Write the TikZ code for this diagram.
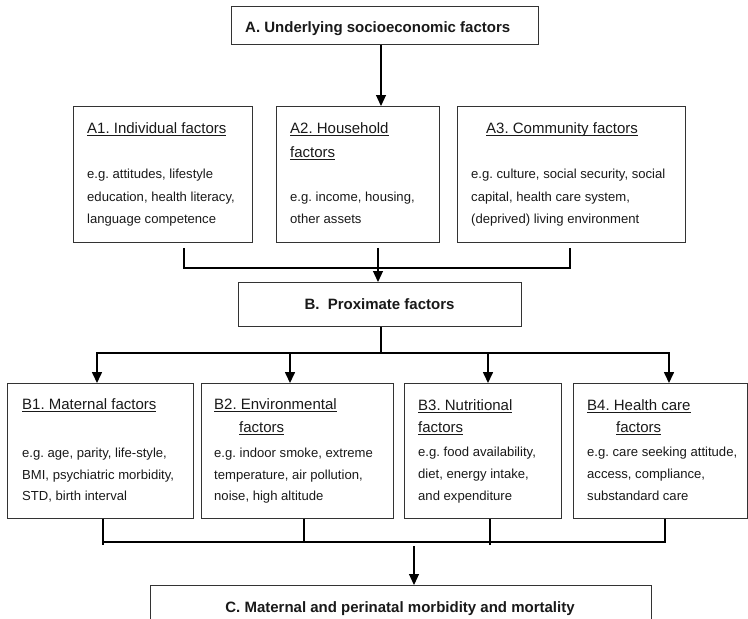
\documentclass[tikz,border=0pt]{standalone}
\usepackage{fontspec}
\setmainfont{Liberation Sans}
\usetikzlibrary{arrows.meta,calc}
\newcommand\ulin[1]{\setbox0\hbox{#1}\rlap{\vrule height -1.6pt depth 2.5pt width \wd0}\box0}
\frenchspacing
\begin{document}
\begin{tikzpicture}[x=1pt,y=-1pt,
  box/.style={draw=black!80, line width=0.8pt, inner sep=0pt, anchor=north west},
  txt/.style={anchor=base west, inner sep=0pt, font=\fontsize{13.1}{15}\selectfont, text=black!90},
  ttl/.style={anchor=base west, inner sep=0pt, font=\fontsize{15}{18}\selectfont, text=black!90},
  hd/.style={inner sep=0pt, font=\fontsize{15}{18}\selectfont\bfseries, text=black!90},
  bar/.style={line width=1.8pt},
  arr/.style={line width=1.1pt, -{Triangle[width=10pt,length=11pt]}},
  arrb/.style={line width=1.6pt, -{Triangle[width=10pt,length=11pt]}},
]
\clip (0,0) rectangle (748,619);
% boxes
\node[box, minimum width=307pt, minimum height=38pt] (a) at (231,6) {};
\node[box, minimum width=179pt, minimum height=136pt] (a1) at (73,106) {};
\node[box, minimum width=163pt, minimum height=136pt] (a2) at (276,106) {};
\node[box, minimum width=228pt, minimum height=136pt] (a3) at (457,106) {};
\node[box, minimum width=283pt, minimum height=44pt] (b) at (238,282) {};
\node[box, minimum width=186pt, minimum height=135pt] (b1) at (7,383) {};
\node[box, minimum width=192pt, minimum height=135pt] (b2) at (201,383) {};
\node[box, minimum width=157pt, minimum height=135pt] (b3) at (404,383) {};
\node[box, minimum width=174pt, minimum height=135pt] (b4) at (573,383) {};
\node[box, minimum width=501pt, minimum height=60pt] (c) at (150,585) {};
% headings
\node[hd, anchor=base west] (at) at (245,32) {A. Underlying socioeconomic factors};
\node[hd, anchor=base] (bt) at (379.5,309) {B.\hspace{0.55em}Proximate factors};
\node[hd, anchor=base] (ct) at (400,612) {C. Maternal and perinatal morbidity and mortality};
% A1
\node[ttl] (a1t) at (87,133) {\ulin{A1. Individual factors}};
\node[txt] (a1l1) at (87,178) {e.g. attitudes, lifestyle};
\node[txt] (a1l2) at (87,201) {education, health literacy,};
\node[txt] (a1l3) at (87,223) {language competence};
% A2
\node[ttl] (a2t) at (290,133) {\ulin{A2. Household}};
\node[ttl] (a2u) at (290,157) {\ulin{factors}};
\node[txt] (a2l1) at (290,201) {e.g. income, housing,};
\node[txt] (a2l2) at (290,223) {other assets};
% A3
\node[ttl] (a3t) at (486,133) {\ulin{A3. Community factors}};
\node[txt] (a3l1) at (471,178) {e.g. culture, social security, social};
\node[txt] (a3l2) at (471,201) {capital, health care system,};
\node[txt] (a3l3) at (471,223) {(deprived) living environment};
% B1
\node[ttl] (b1t) at (22,409) {\ulin{B1. Maternal factors}};
\node[txt] (b1l1) at (22,457) {e.g. age, parity, life-style,};
\node[txt] (b1l2) at (22,479) {BMI, psychiatric morbidity,};
\node[txt] (b1l3) at (22,500) {STD, birth interval};
% B2
\node[ttl] (b2t) at (214,409) {\ulin{B2. Environmental}};
\node[ttl] (b2u) at (239,432) {\ulin{factors}};
\node[txt] (b2l1) at (214,457) {e.g. indoor smoke, extreme};
\node[txt] (b2l2) at (214,479) {temperature, air pollution,};
\node[txt] (b2l3) at (214,500) {noise, high altitude};
% B3
\node[ttl] (b3t) at (418,410) {\ulin{B3. Nutritional}};
\node[ttl] (b3u) at (418,432) {\ulin{factors}};
\node[txt] (b3l1) at (418,456) {e.g. food availability,};
\node[txt] (b3l2) at (418,478) {diet, energy intake,};
\node[txt] (b3l3) at (418,500) {and expenditure};
% B4
\node[ttl] (b4t) at (587,410) {\ulin{B4. Health care}};
\node[ttl] (b4u) at (616,432) {\ulin{factors}};
\node[txt] (b4l1) at (587,456) {e.g. care seeking attitude,};
\node[txt] (b4l2) at (587,478) {access, compliance,};
\node[txt] (b4l3) at (587,500) {substandard care};
% x positions of connectors
\coordinate (xa) at (381,0);
\coordinate (xa1) at (184,0);
\coordinate (xa2) at (378,0);
\coordinate (xa3) at (570,0);
\coordinate (abar) at (0,268);
\coordinate (xb) at (381,0);
\coordinate (bbar) at (0,353);
\coordinate (xb1) at (97,0);
\coordinate (xb2) at (290,0);
\coordinate (xb3) at (488,0);
\coordinate (xb4) at (669,0);
\coordinate (xs1) at (103,0);
\coordinate (xs2) at (304,0);
\coordinate (xs3) at (490,0);
\coordinate (xs4) at (665,0);
\coordinate (cbar) at (0,542);
\coordinate (xc) at (414,0);
% connectors
\draw[arr] (xa |- a.south) -- (xa |- a2.north);
\draw[bar] ($(xa1 |- a1.south)+(0,5)$) -- (xa1 |- abar) -- (xa3 |- abar) -- ($(xa3 |- a3.south)+(0,5)$);
\draw[arr] ($(xa2 |- a2.south)+(0,5)$) -- (xa2 |- b.north);
\draw[bar] (xb |- b.south) -- (xb |- bbar);
\draw[bar] ($(xb1 |- bbar)+(-0.9,0)$) -- ($(xb4 |- bbar)+(0.9,0)$);
\draw[arrb] (xb1 |- bbar) -- (xb1 |- b1.north);
\draw[arrb] (xb2 |- bbar) -- (xb2 |- b2.north);
\draw[arrb] (xb3 |- bbar) -- (xb3 |- b3.north);
\draw[arrb] (xb4 |- bbar) -- (xb4 |- b4.north);
\draw[bar] (xs1 |- b1.south) -- ($(xs1 |- cbar)+(0,3)$);
\draw[bar] (xs2 |- b2.south) -- (xs2 |- cbar);
\draw[bar] (xs3 |- b3.south) -- ($(xs3 |- cbar)+(0,3)$);
\draw[bar] (xs4 |- b4.south) -- ($(xs4 |- cbar)+(0,-0.9)$);
\draw[bar] ($(xs1 |- cbar)+(-0.9,0)$) -- ($(xs4 |- cbar)+(0.9,0)$);
\draw[arr] ($(xc |- cbar)+(0,4)$) -- (xc |- c.north);
\end{tikzpicture}
\end{document}
